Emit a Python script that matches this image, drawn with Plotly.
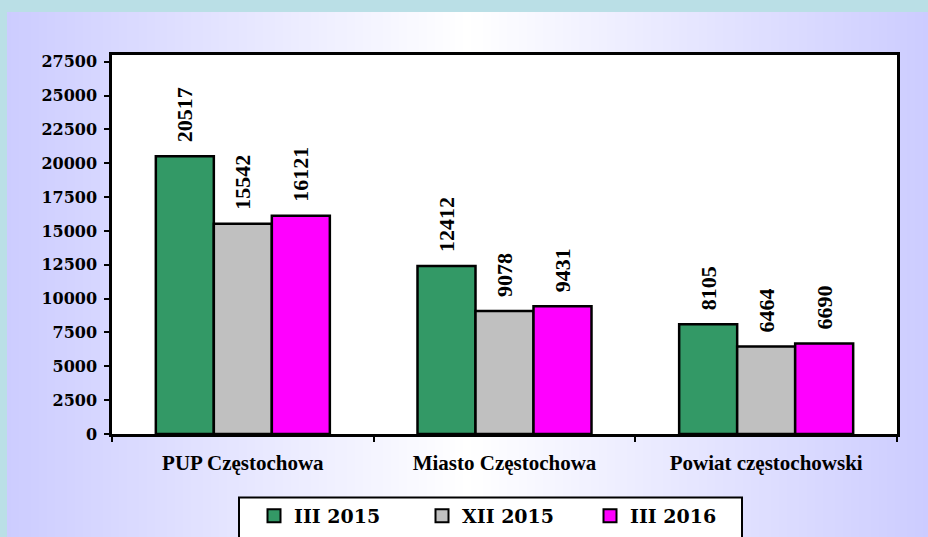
import plotly.graph_objects as go

categories = ["PUP Częstochowa", "Miasto Częstochowa", "Powiat częstochowski"]
series_names = ["III 2015", "XII 2015", "III 2016"]
values_iii_2015 = [20517, 12412, 8105]
values_xii_2015 = [15542, 9078, 6464]
values_iii_2016 = [16121, 9431, 6690]
y_tick_values = [0, 2500, 5000, 7500, 10000, 12500, 15000, 17500, 20000, 22500, 25000, 27500]

colors = ["#339966", "#C0C0C0", "#FF00FF"]

FIG_W, FIG_H = 928, 537
L, R, T, B = 112, 31, 55, 103
PW = FIG_W - L - R
PH = FIG_H - T - B


def px2x(px):
    return (px - L) / PW


def py2y(py):
    return (FIG_H - B - py) / PH


fig = go.Figure()
for name, vals, col in zip(series_names, [values_iii_2015, values_xii_2015, values_iii_2016], colors):
    fig.add_trace(go.Bar(
        name=name, x=categories, y=vals,
        marker=dict(color=col, line=dict(color="black", width=2.5)),
        text=vals,
        texttemplate="\u00a0\u00a0%{text}",
        textposition="outside",
        textangle=-90,
        constraintext="none",
        cliponaxis=False,
        showlegend=False,
        textfont=dict(family="Liberation Serif", size=22, color="black", weight="bold"),
    ))
# legend entries with larger square swatches
for name, col in zip(series_names, colors):
    fig.add_trace(go.Scatter(
        name=name, x=[None], y=[None], mode="markers",
        marker=dict(symbol="square", size=13, color=col, line=dict(color="black", width=2)),
        showlegend=True,
    ))

# background: light blue frame + horizontal lavender-white-lavender gradient
shapes = []
x0, x1, ytop = 7, FIG_W, 12
edge = (204, 204, 255)
center = (x0 + x1) / 2
step = 4
px = x0
while px < x1:
    mid = px + step / 2
    t = abs(mid - center) / (center - x0)
    t = min(max(t, 0), 1)
    c = tuple(int(round(255 + (e - 255) * t)) for e in edge)
    shapes.append(dict(type="rect", xref="paper", yref="paper", layer="below",
                       x0=px2x(px), x1=px2x(min(px + step + 0.6, x1 + 2)),
                       y0=py2y(FIG_H + 5), y1=py2y(ytop),
                       line=dict(width=0), fillcolor="rgb(%d,%d,%d)" % c))
    px += step
# white plot area
shapes.append(dict(type="rect", xref="paper", yref="paper", layer="below",
                   x0=0, x1=1, y0=0, y1=1, line=dict(width=0), fillcolor="white"))
# legend box
shapes.append(dict(type="rect", xref="paper", yref="paper", layer="below",
                   x0=px2x(239), x1=px2x(742), y0=py2y(545), y1=py2y(497.5),
                   line=dict(color="black", width=2), fillcolor="white"))

fig.update_layout(
    width=FIG_W, height=FIG_H,
    margin=dict(l=L, r=R, t=T, b=B, autoexpand=False),
    paper_bgcolor="#BADFE6",
    plot_bgcolor="white",
    barmode="group",
    bargap=0.335,
    bargroupgap=0,
    shapes=shapes,
    showlegend=True,
    legend=dict(
        orientation="h",
        x=px2x(254), xanchor="left",
        y=py2y(516), yanchor="middle",
        bgcolor="rgba(0,0,0,0)", borderwidth=0,
        font=dict(family="DejaVu Serif", size=19, color="black", weight="bold"),
        entrywidth=123, entrywidthmode="pixels",
    ),
    xaxis=dict(
        showline=True, linecolor="black", linewidth=2.5, mirror=True,
        ticks="outside", tickson="boundaries", ticklen=5, tickwidth=2, tickcolor="black",
        ticklabelstandoff=8,
        tickfont=dict(family="Liberation Serif", size=21, color="black", weight="bold"),
    ),
    yaxis=dict(
        range=[0, 28000],
        tickvals=y_tick_values,
        ticktext=[str(v) for v in y_tick_values],
        showline=True, linecolor="black", linewidth=2.5, mirror=True,
        showgrid=False, zeroline=False,
        ticks="outside", ticklen=5, tickwidth=2, tickcolor="black",
        ticklabelstandoff=4,
        tickfont=dict(family="DejaVu Serif", size=16, color="black", weight="bold"),
    ),
)

fig.write_html(
    "out.html",
    config={"displayModeBar": False},
    post_script="document.body.style.margin='0px';document.body.style.overflow='hidden';",
)
